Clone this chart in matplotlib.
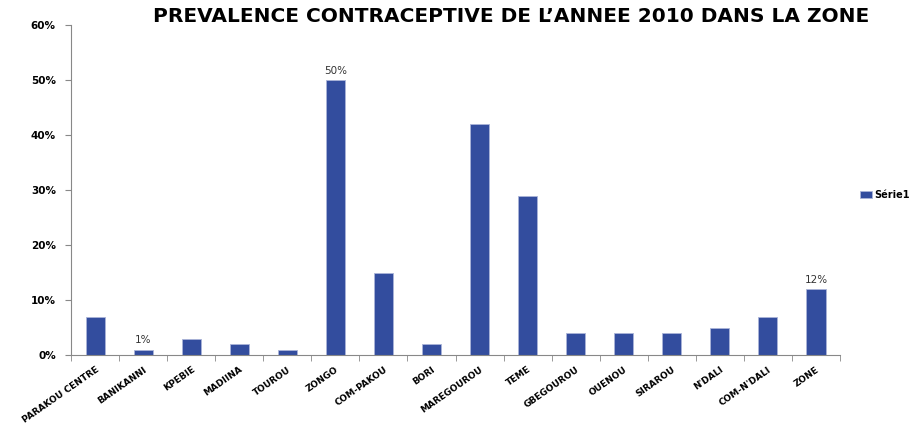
import matplotlib.pyplot as plt
import numpy as np

plt.rcParams['font.family'] = ['DejaVu Sans']

zones = ["PARAKOU CENTRE", "BANIKANNI", "KPEBIE", "MADIINA", "TOUROU", "ZONGO",
         "COM-PAKOU", "BORI", "MAREGOUROU", "TEME", "GBEGOUROU", "OUENOU",
         "SIRAROU", "N'DALI", "COM-N'DALI", "ZONE"]
prevalence = [7, 1, 3, 2, 1, 50, 15, 2, 42, 29, 4, 4, 4, 5, 7, 12]
labelled = ["BANIKANNI", "ZONGO", "ZONE"]

fig = plt.figure(figsize=(9.12, 4.38), dpi=100)
ax = fig.add_axes([0.078, 0.189, 0.843, 0.754])

x = np.arange(len(zones))
bars = ax.bar(x, prevalence, width=0.4, color="#334d9e", edgecolor="#aab4d8",
              linewidth=0.6, label="Série1")

for i, (name, v) in enumerate(zip(zones, prevalence)):
    if name in labelled:
        ax.text(i, v + 0.8, f"{v}%", ha="center", va="bottom", fontsize=7.5,
                color="#333333")

ax.set_xlim(-0.5, len(zones) - 0.5)
ax.set_ylim(0, 60)
ax.set_yticks(range(0, 61, 10))
ax.set_yticklabels([f"{t}%" for t in range(0, 61, 10)], fontsize=7.5,
                   fontweight="bold")

ax.set_xticks(x)
ax.set_xticklabels(zones, rotation=35, ha="right", rotation_mode="anchor",
                   fontsize=6.5, fontweight="bold")
ax.tick_params(axis="x", length=0, pad=7)
ax.set_xticks(np.arange(-0.5, len(zones)), minor=True)
ax.tick_params(axis="x", which="minor", length=4, color="#888888")
ax.tick_params(axis="y", length=4, color="#888888", pad=7)

for s in ["top", "right"]:
    ax.spines[s].set_visible(False)
for s in ["left", "bottom"]:
    ax.spines[s].set_color("#888888")

fig.text(0.56, 0.95, "PREVALENCE CONTRACEPTIVE DE L\u2019ANNEE 2010 DANS LA ZONE",
         ha="center", va="baseline", fontsize=14.5, fontweight="bold")

ax.legend(loc="center left", bbox_to_anchor=(0.943, 0.555),
          bbox_transform=fig.transFigure, frameon=False, borderpad=0,
          borderaxespad=0, prop={"weight": "bold", "size": 7},
          handlelength=1.2, handleheight=0.6, handletextpad=0.3)

plt.savefig("out.png", dpi=100)
